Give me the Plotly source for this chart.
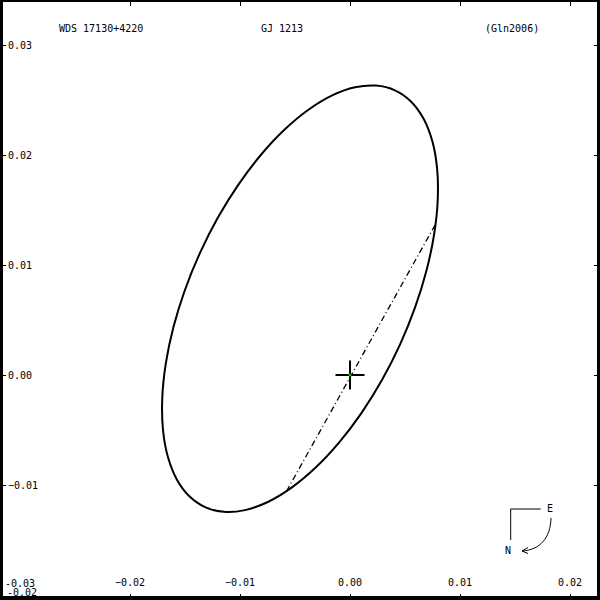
import plotly.graph_objects as go

# ---- data (relative orbit, arcsec) ----
orbit_x = [0.004555, 0.002918, 0.001053, -0.000981, -0.003123, -0.005309, -0.007471, -0.009545,
           -0.011467, -0.013178, -0.014627, -0.015769, -0.016571, -0.017007, -0.017065, -0.016743,
           -0.016049, -0.015006, -0.013645, -0.012008, -0.010143, -0.008109, -0.005967, -0.003781,
           -0.001619, 0.000455, 0.002377, 0.004088, 0.005537, 0.006679, 0.007481, 0.007917,
           0.007975, 0.007653, 0.006959, 0.005916, 0.004555]
orbit_y = [0.002789, -0.000438, -0.003440, -0.006127, -0.008418, -0.010242, -0.011544, -0.012283,
           -0.012440, -0.012008, -0.011000, -0.009447, -0.007396, -0.004910, -0.002064, 0.001055,
           0.004354, 0.007730, 0.011083, 0.014310, 0.017312, 0.019999, 0.022290, 0.024114,
           0.025416, 0.026155, 0.026312, 0.025880, 0.024872, 0.023319, 0.021268, 0.018782,
           0.015936, 0.012817, 0.009518, 0.006142, 0.002789]
node_x = [0.00773, -0.00591]
node_y = [0.01364, -0.01082]
primary_x = [0.0]
primary_y = [0.0]
cross_half = 0.00132

x_ticks = [-0.03, -0.02, -0.01, 0.00, 0.01, 0.02]
y_ticks = [-0.02, -0.01, 0.00, 0.01, 0.02, 0.03]
x_range = [-0.031818, 0.022727]
y_range = [-0.020455, 0.034091]

title_left = "WDS 17130+4220"
title_mid = "GJ 1213"
title_right = "(Gln2006)"

FONT = "DejaVu Sans Mono"
W = H = 600

def px(x):
    return x / W

def py(y):
    return 1 - y / H

fig = go.Figure()
fig.add_trace(go.Scatter(x=orbit_x, y=orbit_y, mode="lines",
                         line=dict(color="black", width=2, shape="spline", smoothing=1.0),
                         hoverinfo="skip"))
fig.add_trace(go.Scatter(x=node_x, y=node_y, mode="lines",
                         line=dict(color="black", width=1.3, dash="6px,3px,1px,3px"),
                         hoverinfo="skip"))
cx = [primary_x[0] - cross_half, primary_x[0] + cross_half, None, primary_x[0], primary_x[0]]
cy = [primary_y[0], primary_y[0], None, primary_y[0] - cross_half, primary_y[0] + cross_half]
fig.add_trace(go.Scatter(x=cx, y=cy, mode="lines", line=dict(color="black", width=2),
                         hoverinfo="skip"))
fig.add_trace(go.Scatter(x=primary_x, y=primary_y, mode="markers",
                         marker=dict(color="#00c000", size=3), hoverinfo="skip"))

axis_common = dict(showgrid=False, zeroline=False, showline=False, ticks="inside",
                   ticklen=6, tickwidth=1, tickcolor="black", mirror="ticks",
                   ticklabelposition="inside", tickformat=".2f",
                   tickfont=dict(family=FONT, size=10, color="#000000"))
fig.update_xaxes(range=x_range, tickvals=x_ticks, ticklabelstandoff=5, **axis_common)
fig.update_yaxes(range=y_range, tickvals=y_ticks, ticklabelstandoff=1, **axis_common)

shapes = []
# frame
shapes.append(dict(type="line", xref="paper", yref="paper", x0=px(1.5), x1=px(1.5), y0=0, y1=1,
                   line=dict(color="black", width=3)))
shapes.append(dict(type="line", xref="paper", yref="paper", x0=px(598.5), x1=px(598.5), y0=0, y1=1,
                   line=dict(color="black", width=3)))
shapes.append(dict(type="line", xref="paper", yref="paper", x0=0, x1=1, y0=py(598), y1=py(598),
                   line=dict(color="black", width=4)))
shapes.append(dict(type="line", xref="paper", yref="paper", x0=0, x1=1, y0=py(1), y1=py(1),
                   line=dict(color="black", width=2)))
# compass
shapes.append(dict(type="line", xref="paper", yref="paper", x0=px(510.7), x1=px(540.7),
                   y0=py(509), y1=py(509), line=dict(color="black", width=1)))
shapes.append(dict(type="line", xref="paper", yref="paper", x0=px(510.7), x1=px(510.7),
                   y0=py(509), y1=py(540), line=dict(color="black", width=1)))
arc = "M {} {} C {} {} {} {} {} {}".format(px(551), py(518), px(550.5), py(538),
                                           px(540), py(550), px(522), py(551))
shapes.append(dict(type="path", xref="paper", yref="paper", path=arc,
                   line=dict(color="black", width=1)))
head = "M {} {} L {} {} L {} {}".format(px(528), py(547.5), px(522), py(551), px(528), py(553.5))
shapes.append(dict(type="path", xref="paper", yref="paper", path=head,
                   line=dict(color="black", width=1)))

annotations = []
for txt, xp, yp in [(title_left, 101, 28.5), (title_mid, 282, 28.5), (title_right, 512, 28.5),
                    ("E", 550, 508.5), ("N", 507.5, 550.5)]:
    annotations.append(dict(text=txt, xref="paper", yref="paper", x=px(xp), y=py(yp),
                            xanchor="center", yanchor="middle", showarrow=False,
                            font=dict(family=FONT, size=10, color="black")))
# corner tick labels that plotly hides
annotations.append(dict(text="{:.2f}".format(x_ticks[0]), xref="x", yref="paper", x=x_ticks[0],
                        y=py(583), xanchor="center", yanchor="middle", showarrow=False,
                        font=dict(family=FONT, size=10, color="black")))
annotations.append(dict(text="{:.2f}".format(y_ticks[0]), xref="paper", yref="paper", x=px(5),
                        y=py(592), xanchor="left", yanchor="middle", showarrow=False,
                        font=dict(family=FONT, size=10, color="black")))

fig.update_layout(template="none", width=W, height=H, margin=dict(l=0, r=0, t=0, b=0),
                  paper_bgcolor="white", plot_bgcolor="white", showlegend=False,
                  shapes=shapes, annotations=annotations)

fig.write_html("out.html", config={"displayModeBar": False},
               post_script="document.body.style.margin='0';")
